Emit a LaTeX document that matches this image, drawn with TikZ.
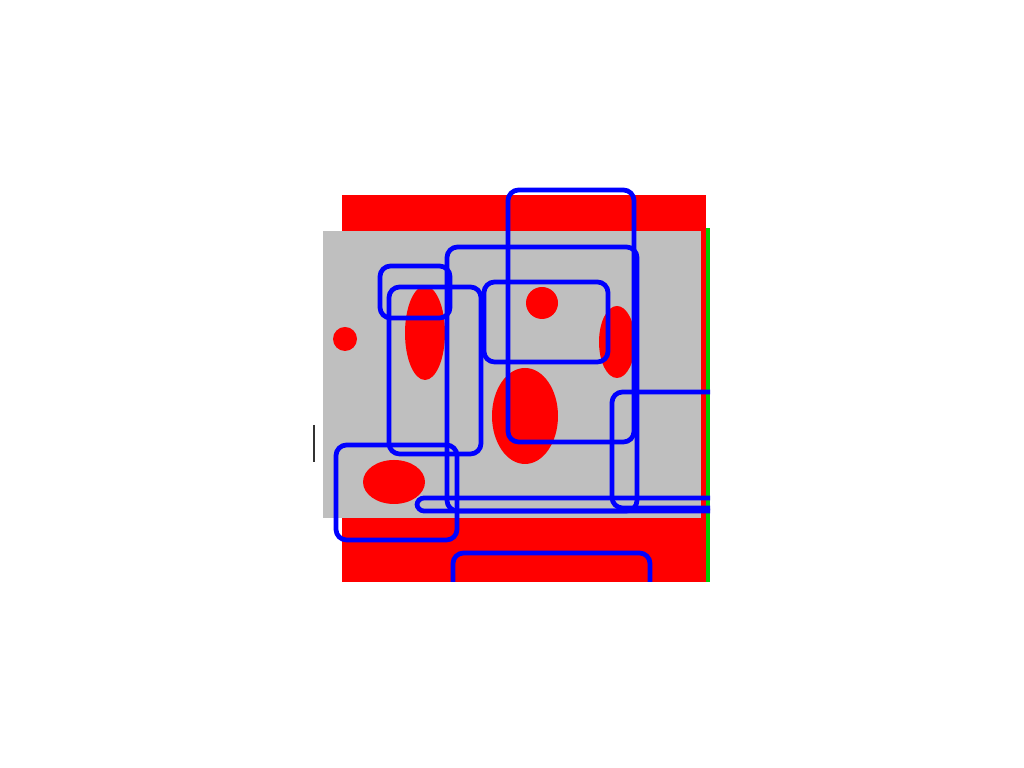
\documentclass[tikz,border=0pt]{standalone}
\usepackage{tikz}
\usepackage{xcolor}

\begin{document}
\begin{tikzpicture}[x=0.01cm, y=-0.01cm]
    \useasboundingbox[fill=white] (0,0) rectangle (1024,768);

    % Red base and grey floor
    \fill[red] (342,195) rectangle (706,582);
    \fill[gray!50] (323,231) rectangle (701,518);
    \fill[green!80!black] (706,228) rectangle (710,582);
    \draw[line width=0.6pt, black!80] (314,425) -- (314,462);

    % Red blobs
    \fill[red] (345,339) circle (12);
    \fill[red] (425,333) ellipse (20 and 47);
    \fill[red] (542,303) circle (16);
    \fill[red] (617,342) ellipse (18 and 36);
    \fill[red] (525,416) ellipse (33 and 48);
    \fill[red] (394,482) ellipse (31 and 22);

    % Blue boxes
    \begin{scope}
    \clip (300,180) rectangle (710,582);
    \tikzset{every path/.style={draw=blue, line width=1.35pt, rounded corners=3pt}}
    \draw (380,266) rectangle (450,318);
    \draw (389,287) rectangle (481,454);
    \draw (447,247) rectangle (637,511);
    \draw (508,190) rectangle (634,442);
    \draw (484,282) rectangle (608,362);
    \draw (336,445) rectangle (457,540);
    \draw[rounded corners=2pt] (417,498) rectangle (740,511);
    \draw (612,392) rectangle (740,508);
    \draw (453,553) rectangle (650,610);
    \end{scope}
\end{tikzpicture}
\end{document}
